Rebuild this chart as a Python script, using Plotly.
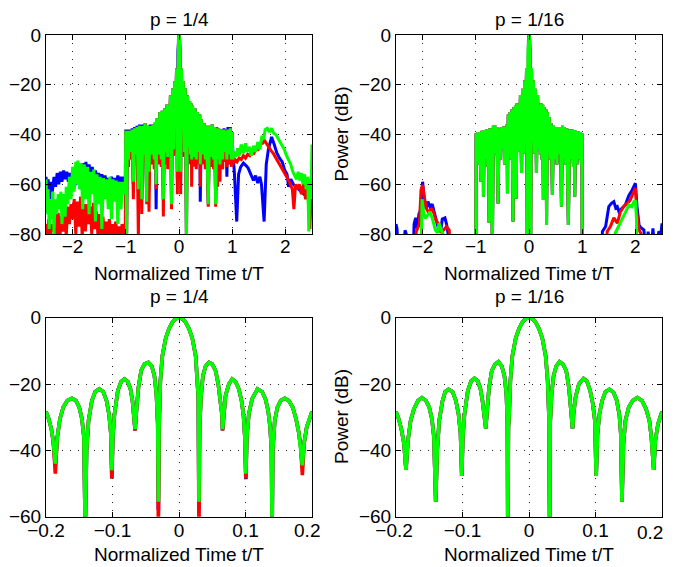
import plotly.graph_objects as go

# ---------------- DATA ----------------
# Top-left panel (p = 1/4), Normalized time t/T vs Power (dB)
tl_green_left_t = [-2.50, -2.48, -2.46, -2.44, -2.42, -2.40, -2.37, -2.35, -2.33, -2.30, -2.27, -2.25, -2.22, -2.20,
                   -2.17, -2.14, -2.12, -2.09, -2.06, -2.03, -2.00, -1.97, -1.94, -1.92, -1.90, -1.87, -1.84, -1.81,
                   -1.78, -1.75, -1.72, -1.69, -1.66, -1.63, -1.60, -1.57, -1.54, -1.51, -1.48, -1.45, -1.42, -1.39,
                   -1.36, -1.33, -1.30, -1.27, -1.24, -1.21, -1.18, -1.15, -1.12, -1.09, -1.06, -1.03, -1.01]
tl_green_left_db = [-58, -72, -62, -78, -66, -74, -63, -80, -66, -72, -64, -70, -63, -76,
                    -64, -73, -61, -68, -57, -66, -53, -63, -51, -60, -50.5, -62, -51.5, -70,
                    -52, -66, -53, -72, -55, -64, -54, -75, -56, -68, -57, -78, -57.5, -66,
                    -58, -70, -57, -74, -58, -67, -58.5, -76, -59, -70, -59, -64, -60]
tl_red_left_t = [-2.50, -2.47, -2.45, -2.42, -2.39, -2.36, -2.33, -2.30, -2.27, -2.24, -2.21, -2.18, -2.15, -2.12,
                 -2.09, -2.06, -2.03, -2.00, -1.97, -1.94, -1.91, -1.88, -1.85, -1.82, -1.79, -1.76, -1.73, -1.70,
                 -1.67, -1.64, -1.61, -1.58, -1.55, -1.52, -1.49, -1.46, -1.43, -1.40, -1.37, -1.34, -1.31, -1.28,
                 -1.25, -1.22, -1.19, -1.16, -1.13, -1.10, -1.07, -1.04, -1.01]
tl_red_left_db = [-76, -80, -74, -82, -76, -79, -72, -80, -71.5, -82, -73, -79, -70, -81,
                  -69, -76, -68, -74, -66, -80, -67, -77, -65, -81, -68, -79, -68, -76,
                  -69, -80, -67.5, -78, -71, -82, -72, -80, -73, -81, -75, -82, -74, -80,
                  -76, -82, -75, -81, -77, -82, -76, -81, -78]
tl_blue_left_t = [-2.50, -2.48, -2.46, -2.43, -2.41, -2.38, -2.35, -2.32, -2.29, -2.26, -2.23, -2.20, -2.17, -2.14,
                  -2.11, -2.08, -2.05, -2.02, -1.99, -1.96, -1.93, -1.90, -1.87, -1.84, -1.81, -1.78, -1.75, -1.72,
                  -1.69, -1.66, -1.63, -1.60, -1.57, -1.54, -1.51, -1.48, -1.45, -1.42, -1.39, -1.36, -1.33, -1.30,
                  -1.27, -1.24, -1.21, -1.18, -1.15, -1.12, -1.09, -1.06, -1.03, -1.01]
tl_blue_left_db = [-57, -64, -58, -66, -59, -63, -57, -61, -55.5, -60, -55, -59, -54.5, -58,
                   -55, -59, -55.5, -60, -55, -61, -53, -60, -52, -62, -51.5, -60, -51, -58,
                   -52, -57, -53, -58.5, -54.5, -59, -55.5, -59, -56, -60, -56.5, -60, -57.5, -61,
                   -57, -60, -57.5, -61, -56.5, -60, -57, -61, -57, -60]

tl_ct = [-1.000, -0.985, -0.970, -0.950, -0.930, -0.905, -0.880, -0.858, -0.835, -0.810, -0.790, -0.764, -0.745,
         -0.725, -0.710, -0.700, -0.680, -0.655, -0.635, -0.607, -0.585, -0.564, -0.540, -0.515, -0.490, -0.465,
         -0.445, -0.430, -0.410, -0.385, -0.360, -0.335, -0.315, -0.294, -0.270, -0.245, -0.225, -0.212, -0.200,
         -0.186, -0.161, -0.141, -0.120, -0.101, -0.082, -0.066, -0.046, -0.031, -0.020, -0.010, 0.000, 0.010,
         0.020, 0.031, 0.045, 0.066, 0.080, 0.100, 0.118, 0.140, 0.159, 0.186, 0.200, 0.215, 0.228, 0.238, 0.255,
         0.280, 0.300, 0.325, 0.345, 0.370, 0.390, 0.400, 0.420, 0.445, 0.470, 0.495, 0.515, 0.550, 0.575, 0.600,
         0.625, 0.650, 0.670, 0.689, 0.710, 0.725, 0.745, 0.770, 0.790, 0.820, 0.845, 0.865, 0.883, 0.900, 0.920,
         0.945, 0.965, 0.985, 1.000]
tl_c_green = [-38.5, -80, -38.5, -50, -38.5, -47, -38, -59, -37.5, -48, -37, -62, -36.5,
              -47, -36.5, -66, -36.5, -48, -35.5, -67, -36.5, -55, -36.5, -48, -36, -50,
              -35, -60, -33.5, -48, -31, -50, -30.5, -66, -29.5, -47, -28, -49, -28.3,
              -44, -24.3, -68, -21.5, -46, -18.5, -33.6, -13.5, -55, -6.5, -1.4, 0, -1.4,
              -6.5, -55, -13.5, -33.6, -18.5, -47, -21.5, -82, -24.3, -45, -26.5, -48, -27.5, -50, -28.5,
              -49, -29.5, -50, -31, -47, -32, -52, -34, -48, -35.5, -50, -36.5, -68, -36.5, -49,
              -36, -50, -37, -68, -37.5, -50, -37.5, -52, -38, -50, -38, -47, -38.5, -50, -38,
              -48, -37.5, -50, -39]
tl_c_red = [-38.5, -82, -38.5, -53, -38.5, -50, -38, -66, -37.5, -50, -37, -82, -36.5,
            -49, -36.5, -72, -36.5, -51, -35.5, -68, -36.5, -71, -36.5, -52, -36, -54,
            -35, -62, -33.5, -52, -31, -53, -30.5, -73, -29.5, -52, -28, -54, -28.3,
            -47, -24.3, -70, -21.5, -48.5, -18.5, -34, -13.5, -64, -6.5, -1.4, 0, -1.4,
            -6.5, -64, -13.5, -34, -18.5, -49, -21.5, -82, -24.3, -47.5, -26.5, -52, -27.5, -61, -28.5,
            -53, -29.5, -54, -31, -52, -32, -61, -34, -52, -35.5, -54, -36.5, -69, -36.5, -53,
            -36, -54, -37, -69, -37, -61, -37.5, -59, -38, -54, -38, -51, -38.5, -53, -38,
            -52, -37.5, -53, -39]
tl_c_blue = [-38, -80, -38, -51, -38, -48, -37.5, -60, -37, -49, -36.5, -63, -36,
             -48, -36, -66, -36, -49, -35.5, -67, -36.5, -56, -36, -49, -36, -51,
             -35, -70, -33.5, -49, -31, -51, -30.5, -66, -29.5, -48, -28, -50, -28.3,
             -44, -24.3, -68, -21.5, -48.5, -18.5, -34, -13.5, -58, -6.5, -1.4, 0, -1.4,
             -6.5, -58, -13.5, -34, -18.5, -48.5, -21.5, -82, -24.3, -45, -26.5, -49, -27.5, -51, -28.5,
             -50, -29.5, -51, -31, -48, -32, -67, -34, -49, -35.5, -51, -36.5, -68, -36.5, -50,
             -36, -51, -37, -68, -37.5, -51, -37.5, -53, -38, -51, -37.5, -48, -38, -57, -37,
             -49, -37, -51, -39]

tl_green_right_t = [1.01, 1.04, 1.07, 1.10, 1.13, 1.17, 1.21, 1.25, 1.28, 1.32, 1.36, 1.40, 1.44, 1.48, 1.52,
                    1.56, 1.59, 1.62, 1.66, 1.70, 1.74, 1.78, 1.82, 1.86, 1.90, 1.94, 1.98, 2.02, 2.06, 2.10,
                    2.14, 2.18, 2.21, 2.24, 2.27, 2.30, 2.33, 2.36, 2.39, 2.42, 2.44, 2.46, 2.48, 2.50]
tl_green_right_db = [-50, -47, -49, -45.5, -48.5, -44, -47.5, -43.5, -47, -45, -48.5, -44.5, -47, -43, -46,
                     -40.5, -42, -38, -37.5, -39, -37.5, -39.5, -40, -41.5, -43, -44.5, -46, -48.5, -50, -52,
                     -55, -56.5, -58, -55, -58.5, -55.5, -60, -56, -62, -57, -79, -58, -66, -44]
tl_red_right_t = [1.01, 1.05, 1.09, 1.13, 1.17, 1.21, 1.25, 1.29, 1.33, 1.37, 1.41, 1.45, 1.49, 1.53, 1.57,
                  1.61, 1.65, 1.69, 1.73, 1.77, 1.81, 1.85, 1.89, 1.93, 1.97, 2.01, 2.05, 2.09, 2.13, 2.16,
                  2.19, 2.22, 2.26, 2.30, 2.34, 2.38, 2.42, 2.46, 2.48, 2.50]
tl_red_right_db = [-52, -50, -51, -49.5, -50, -48.5, -49.5, -48, -48.5, -47, -47.5, -45.5, -46, -44, -43.5,
                   -42.5, -44, -45, -46.5, -47.5, -49, -50, -51.5, -53, -55, -56, -58, -60, -62, -70,
                   -60, -62, -60, -64, -60, -66, -62, -78, -62, -56]
tl_blue_right_t = [1.01, 1.04, 1.085, 1.12, 1.16, 1.21, 1.26, 1.30, 1.35, 1.40, 1.44, 1.48, 1.52, 1.55, 1.60,
                   1.64, 1.68, 1.74, 1.79, 1.84, 1.89, 1.94, 1.99, 2.03, 2.06, 2.10, 2.15, 2.20, 2.25, 2.30,
                   2.35, 2.40, 2.45, 2.50]
tl_blue_right_db = [-46, -55, -75, -56, -53, -51.5, -52.5, -53.5, -56, -58.5, -56.5, -59.5, -57, -60, -75,
                    -52, -46, -41, -44, -47.5, -49.5, -51, -54.5, -56, -61, -58, -60, -61, -62, -63,
                    -64, -62, -66, -60]

# Top-right panel (p = 1/16)
tr_ct = [-1.000, -0.995, -0.975, -0.955, -0.935, -0.920, -0.906, -0.885, -0.870, -0.862, -0.856, -0.840, -0.815,
         -0.795, -0.775, -0.765, -0.750, -0.735, -0.715, -0.700, -0.690, -0.670, -0.657, -0.645, -0.625, -0.605,
         -0.582, -0.560, -0.540, -0.520, -0.500, -0.480, -0.460, -0.437, -0.420, -0.412, -0.405, -0.390, -0.370,
         -0.355, -0.335, -0.320, -0.300, -0.285, -0.265, -0.255, -0.240, -0.225, -0.205, -0.200, -0.185, -0.161,
         -0.140, -0.121, -0.101, -0.082, -0.065, -0.046, -0.032, -0.020, -0.010, 0.000, 0.010, 0.020, 0.031,
         0.046, 0.0655, 0.082, 0.101, 0.121, 0.140, 0.161, 0.187, 0.200, 0.215, 0.228, 0.245, 0.258, 0.270,
         0.285, 0.305, 0.318, 0.330, 0.345, 0.365, 0.380, 0.400, 0.415, 0.440, 0.460, 0.480, 0.500, 0.525,
         0.545, 0.570, 0.590, 0.610, 0.630, 0.650, 0.665, 0.690, 0.710, 0.740, 0.765, 0.790, 0.810, 0.835,
         0.850, 0.860, 0.875, 0.900, 0.920, 0.945, 0.965, 0.985, 0.995, 1.000]
tr_c_db = [-90, -39.5, -50, -39, -52, -39, -59, -38.5, -50, -38.5, -65, -38.2, -50,
           -38, -53, -37.8, -75.5, -37.5, -50, -37.5, -90, -36.5, -45, -36.2, -48, -37,
           -67.7, -37.5, -50, -37, -46, -36.8, -52, -36.8, -49, -36, -63.6, -32, -48,
           -31, -50, -30, -75, -29, -48, -28.5, -65.7, -27.5, -47, -28.3, -46, -24.1,
           -55.5, -21.6, -47.7, -18.3, -33.4, -13.3, -90, -6.5, -1.4, 0, -1.4, -6.5, -90,
           -13.3, -33.4, -18.3, -47.7, -21.6, -55.5, -24.1, -46, -28.3, -48, -27.5, -50, -28, -66.3,
           -29, -50, -30, -76.4, -31, -48, -33, -50, -35.5, -64.3, -36.5, -50, -37, -52,
           -37, -48, -37, -69, -36.5, -50, -37, -52, -37.5, -76.4, -38, -50, -38, -53,
           -38.2, -65, -38.5, -52, -38.7, -50, -39, -52, -39.5, -90]
tr_blue_left_t = [-2.50, -2.48, -2.46, -2.36, -2.33, -2.30, -2.27, -2.18, -2.16, -2.13, -2.10, -2.07, -2.03,
                  -2.00, -1.97, -1.93, -1.90, -1.86, -1.82, -1.78, -1.74, -1.70, -1.66, -1.63, -1.58, -1.55,
                  -1.52, -1.50]
tr_blue_left_db = [-76, -78, -90, -90, -78.5, -80.5, -90, -90, -76, -73.5, -78, -72, -70,
                   -59, -66, -70, -67, -69, -68, -71, -75, -78, -79, -74, -73.5, -76,
                   -80, -90]
tr_red_left_t = [-2.16, -2.12, -2.06, -2.03, -2.00, -1.97, -1.94, -1.90, -1.87, -1.83, -1.79, -1.75, -1.69,
                 -1.65, -1.60, -1.55, -1.50, -1.47]
tr_red_left_db = [-90, -79, -76, -62.3, -60.3, -66, -69, -71, -71, -69.7, -71.5, -74.4, -76.4,
                  -79.5, -78, -77, -78.4, -90]
tr_green_left_t = [-2.03, -2.01, -1.98, -1.95, -1.91, -1.86, -1.81, -1.76, -1.72, -1.69, -1.65, -1.62, -1.58]
tr_green_left_db = [-90, -66, -71.5, -73.7, -72.5, -71, -74.4, -78.4, -79.5, -75.7, -78.4, -79.7, -90]
tr_blue_right_t = [1.36, 1.38, 1.44, 1.50, 1.55, 1.595, 1.63, 1.66, 1.69, 1.72, 1.77, 1.81, 1.85, 1.88,
                   1.94, 2.00, 2.03, 2.07, 2.10, 2.16, 2.20, 2.24, 2.28, 2.33, 2.37, 2.44, 2.48, 2.50]
tr_blue_right_db = [-90, -79, -77, -69, -67.7, -67, -69.5, -69, -71, -70.4, -69, -68.3, -66, -64.4,
                    -62.3, -59.6, -69, -76.4, -77.4, -78.4, -90, -79, -90, -77.7, -90, -79, -80, -75.7]
tr_red_right_t = [1.44, 1.47, 1.53, 1.595, 1.66, 1.72, 1.78, 1.85, 1.90, 1.95, 2.00, 2.03, 2.07, 2.10, 2.13]
tr_red_right_db = [-90, -79, -77, -73.5, -75.7, -71, -69, -67.7, -66.5, -64, -61.5, -72, -78.4, -79.7, -90]
tr_green_right_t = [1.57, 1.62, 1.66, 1.70, 1.74, 1.78, 1.82, 1.88, 1.93, 1.97, 2.00, 2.02, 2.03]
tr_green_right_db = [-90, -79.7, -78, -75.7, -74, -72.5, -71, -68.3, -69, -67, -66.5, -73.7, -90]

# Bottom-left panel (p = 1/4), zoom of the main lobe
bl_t = [-0.200, -0.196, -0.192, -0.189, -0.186, -0.183, -0.179, -0.174, -0.168, -0.161, -0.155, -0.150, -0.146,
        -0.143, -0.141, -0.139, -0.136, -0.131, -0.126, -0.120, -0.114, -0.109, -0.105, -0.1025, -0.101, -0.0995,
        -0.097, -0.092, -0.087, -0.082, -0.077, -0.073, -0.070, -0.068, -0.066, -0.064, -0.061, -0.057, -0.052,
        -0.046, -0.041, -0.037, -0.034, -0.032, -0.031, -0.030, -0.028, -0.025, -0.020, -0.015, -0.010, -0.005,
        0.000, 0.005, 0.010, 0.015, 0.020, 0.025, 0.028, 0.029, 0.030, 0.031, 0.033, 0.036, 0.040, 0.045, 0.050,
        0.055, 0.059, 0.062, 0.0645, 0.0655, 0.067, 0.070, 0.075, 0.080, 0.085, 0.090, 0.094, 0.097, 0.099,
        0.1005, 0.102, 0.105, 0.110, 0.118, 0.125, 0.130, 0.134, 0.137, 0.139, 0.140, 0.141, 0.144, 0.148,
        0.153, 0.159, 0.165, 0.171, 0.176, 0.180, 0.183, 0.1855, 0.188, 0.192, 0.196, 0.200]
bl_green = [-28.3, -30.5, -33.5, -37.5, -44, -36, -30.5, -27, -25, -24.3, -25, -27, -30.5,
            -36, -65, -40, -31, -25, -22.3, -21.5, -22.3, -25, -29.5, -35, -46, -36,
            -29, -22, -19.3, -18.5, -19.3, -21.5, -25, -28.5, -33.6, -28, -21, -16, -14,
            -13.5, -14.6, -17.5, -23, -32, -55.5, -33, -19, -11.5, -6.2, -3.3, -1.4, -0.35,
            0, -0.35, -1.4, -3.3, -6.2, -11.5, -19, -24, -55.5, -33, -24, -17.5, -14.6, -13.5, -14,
            -16, -20, -24.5, -29, -33.6, -29, -23.5, -20, -18.5, -19.3, -21.5, -25, -29.5, -36,
            -47, -36, -29, -24.5, -21.5, -22.3, -24.5, -28, -33, -40, -65, -40, -31, -27,
            -25, -24.3, -25, -27, -30.5, -34.5, -39, -44.5, -38, -33, -30.5, -28.3]
bl_red = [-28.3, -30.5, -33.5, -37.5, -47, -36, -30.5, -27, -25, -24.3, -25, -27, -30.5,
          -36, -65, -40, -31, -25, -22.3, -21.5, -22.3, -25, -29.5, -35, -48.5, -36,
          -29, -22, -19.3, -18.5, -19.3, -21.5, -25, -28.5, -34, -28, -21, -16, -14,
          -13.5, -14.6, -17.5, -23, -32, -65, -33, -19, -11.5, -6.2, -3.3, -1.4, -0.35,
          0, -0.35, -1.4, -3.3, -6.2, -11.5, -19, -24, -65, -33, -24, -17.5, -14.6, -13.5, -14,
          -16, -20, -24.5, -29, -34, -29, -23.5, -20, -18.5, -19.3, -21.5, -25, -29.5, -36,
          -48.5, -36, -29, -24.5, -21.5, -22.3, -24.5, -28, -33, -40, -65, -40, -31, -27,
          -25, -24.3, -25, -27, -30.5, -34.5, -39, -47.5, -38, -33, -30.5, -28.3]
bl_blue = [-28.3, -30.5, -33.5, -37.5, -44.5, -36, -30.5, -27, -25, -24.3, -25, -27, -30.5,
           -36, -65, -40, -31, -25, -22.3, -21.5, -22.3, -25, -29.5, -35, -48.5, -36,
           -29, -22, -19.3, -18.5, -19.3, -21.5, -25, -28.5, -34, -28, -21, -16, -14,
           -13.5, -14.6, -17.5, -23, -32, -58, -33, -19, -11.5, -6.2, -3.3, -1.4, -0.35,
           0, -0.35, -1.4, -3.3, -6.2, -11.5, -19, -24, -58, -33, -24, -17.5, -14.6, -13.5, -14,
           -16, -20, -24.5, -29, -34, -29, -23.5, -20, -18.5, -19.3, -21.5, -25, -29.5, -36,
           -48.7, -36, -29, -24.5, -21.5, -22.3, -24.5, -28, -33, -40, -65, -40, -31, -27,
           -25, -24.3, -25, -27, -30.5, -34.5, -39, -45, -38, -33, -30.5, -28.3]

# Bottom-right panel (p = 1/16): the three curves coincide
br_t = [-0.200, -0.196, -0.192, -0.188, -0.185, -0.182, -0.178, -0.173, -0.167, -0.161, -0.155, -0.150, -0.146,
        -0.143, -0.1403, -0.138, -0.135, -0.130, -0.126, -0.121, -0.115, -0.110, -0.106, -0.103, -0.1011, -0.0995,
        -0.097, -0.092, -0.087, -0.082, -0.077, -0.073, -0.070, -0.067, -0.065, -0.063, -0.060, -0.056, -0.051,
        -0.046, -0.041, -0.037, -0.034, -0.0325, -0.0319, -0.031, -0.030, -0.028, -0.025, -0.020, -0.015, -0.010,
        -0.005, 0.000, 0.005, 0.010, 0.015, 0.020, 0.025, 0.028, 0.030, 0.031, 0.0318, 0.034, 0.037, 0.041,
        0.046, 0.051, 0.056, 0.060, 0.063, 0.0645, 0.0655, 0.067, 0.070, 0.075, 0.082, 0.087, 0.092, 0.096,
        0.099, 0.101, 0.103, 0.106, 0.110, 0.115, 0.121, 0.127, 0.132, 0.136, 0.138, 0.1398, 0.142, 0.145,
        0.150, 0.156, 0.163, 0.170, 0.176, 0.181, 0.184, 0.1875, 0.190, 0.194, 0.197, 0.200]
br_db = [-28.3, -30.5, -33.5, -38, -45.9, -37, -31, -27.5, -25, -24.1, -25, -27, -30.5,
         -36, -55.5, -40, -31, -25, -22.3, -21.6, -22.3, -25, -29, -35, -47.7, -36,
         -29, -22, -19.1, -18.3, -19.1, -21.5, -25, -29, -33.4, -28, -21, -16, -14,
         -13.3, -14.6, -17.5, -23, -32, -65, -33, -30, -19, -11.5, -6.2, -3.3, -1.4,
         -0.35, 0, -0.35, -1.4, -3.3, -6.2, -11.5, -19, -30, -65, -32, -23, -17.5, -14.6,
         -13.3, -14, -16, -21, -27, -30, -33.4, -29, -24, -20, -18.3, -19.1, -22, -26,
         -31, -47.7, -35, -29, -25, -22.3, -21.6, -22.5, -25, -29.5, -35, -55.5, -38, -31,
         -27, -25, -24.1, -25, -27.5, -31, -36, -45.9, -37, -32, -30, -28.3]

# Tick labels
top_xtick_vals = [-2, -1, 0, 1, 2]
top_xtick_text = ["\u22122", "\u22121", "0", "1", "2"]
top_ytick_vals = [0, -20, -40, -60, -80]
top_ytick_text = ["0", "\u221220", "\u221240", "\u221260", "\u221280"]
bot_xtick_vals = [-0.2, -0.1, 0, 0.1, 0.2]
bl_xtick_text = ["\u22120.2", "\u22120.1", "0", "0.1", "0.2\u2002"]
# bottom-right: the last label sits inside the window edge; it is placed separately below
br_xtick_text = ["\u22120.2\u2009", "\u22120.1", "0", "0.1", ""]
br_edge_label = "0.2"
bot_ytick_vals = [0, -20, -40, -60]
bot_ytick_text = ["0", "\u221220", "\u221240", "\u221260"]

panel_titles = ["p = 1/4", "p = 1/16", "p = 1/4", "p = 1/16"]
x_label = "Normalized Time t/T"
y_label = "Power (dB)"

BLUE, RED, GREEN = "#0000ff", "#ff0000", "#00ff00"
FONT = "Liberation Sans, Arial, Helvetica, sans-serif"
FS = 19

# The page body has an 8px margin, so the figure is 8px smaller than the window
# and all layout positions below are in figure pixels (window pixels minus 8).
FW, FH = 667, 559

# ---------------- FIGURE ----------------
fig = go.Figure()


def add(t, db, color, xa, ya, w):
    fig.add_trace(go.Scatter(x=t, y=db, mode="lines", line=dict(color=color, width=w),
                             xaxis=xa, yaxis=ya, hoverinfo="skip", showlegend=False))


W_TOP, W_BOT = 3, 3.6
# top-left
add(tl_blue_left_t + tl_ct + tl_blue_right_t, tl_blue_left_db + tl_c_blue + tl_blue_right_db, BLUE, "x", "y", W_TOP)
add(tl_red_left_t + tl_ct + tl_red_right_t, tl_red_left_db + tl_c_red + tl_red_right_db, RED, "x", "y", W_TOP)
add(tl_green_left_t + tl_ct + tl_green_right_t, tl_green_left_db + tl_c_green + tl_green_right_db, GREEN, "x", "y", W_TOP)
# top-right
add(tr_blue_left_t + tr_ct + tr_blue_right_t, tr_blue_left_db + tr_c_db + tr_blue_right_db, BLUE, "x2", "y2", W_TOP)
add(tr_red_left_t + tr_ct + tr_red_right_t, tr_red_left_db + tr_c_db + tr_red_right_db, RED, "x2", "y2", W_TOP)
add(tr_green_left_t + tr_ct + tr_green_right_t, tr_green_left_db + tr_c_db + tr_green_right_db, GREEN, "x2", "y2", W_TOP)
# bottom-left
add(bl_t, bl_blue, BLUE, "x3", "y3", W_BOT)
add(bl_t, bl_red, RED, "x3", "y3", W_BOT)
add(bl_t, bl_green, GREEN, "x3", "y3", W_BOT)
# bottom-right
add(br_t, br_db, BLUE, "x4", "y4", W_BOT)
add(br_t, br_db, RED, "x4", "y4", W_BOT)
add(br_t, br_db, GREEN, "x4", "y4", W_BOT)

common = dict(showline=True, linecolor="black", linewidth=1, mirror="ticks", ticks="inside", ticklen=5,
              tickcolor="black", showgrid=True, gridcolor="#222222", gridwidth=1, griddash="1px,7px",
              zeroline=False, automargin=False, ticklabeloverflow="allow",
              tickfont=dict(family=FONT, size=FS, color="black"))

XL = [38 / FW, 304 / FW]
XR = [388 / FW, 654 / FW]
YT = [1 - 226 / FH, 1 - 27 / FH]
YB = [1 - 508.7 / FH, 1 - 309.7 / FH]

fig.update_layout(
    width=FW, height=FH, margin=dict(l=0, r=0, t=0, b=0, autoexpand=False),
    paper_bgcolor="white", plot_bgcolor="white", showlegend=False,
    xaxis=dict(domain=XL, anchor="y", range=[-2.5, 2.5], tickvals=top_xtick_vals, ticktext=top_xtick_text,
               ticklabelstandoff=-5, **common),
    yaxis=dict(domain=YT, anchor="x", range=[-80, 0], tickvals=top_ytick_vals, ticktext=top_ytick_text, **common),
    xaxis2=dict(domain=XR, anchor="y2", range=[-2.5, 2.5], tickvals=top_xtick_vals, ticktext=top_xtick_text,
                ticklabelstandoff=-5, **common),
    yaxis2=dict(domain=YT, anchor="x2", range=[-80, 0], tickvals=top_ytick_vals, ticktext=top_ytick_text, **common),
    xaxis3=dict(domain=XL, anchor="y3", range=[-0.2, 0.2], tickvals=bot_xtick_vals, ticktext=bl_xtick_text,
                ticklabelstandoff=-4, **common),
    yaxis3=dict(domain=YB, anchor="x3", range=[-60, 0], tickvals=bot_ytick_vals, ticktext=bot_ytick_text, **common),
    xaxis4=dict(domain=XR, anchor="y4", range=[-0.2, 0.2], tickvals=bot_xtick_vals, ticktext=br_xtick_text,
                ticklabelstandoff=-4, **common),
    yaxis4=dict(domain=YB, anchor="x4", range=[-60, 0], tickvals=bot_ytick_vals, ticktext=bot_ytick_text, **common),
)

ann_font = dict(family=FONT, size=FS, color="black")
cx_l, cx_r = 171 / FW, 521 / FW
annotations = []
for i, (cx, cy) in enumerate([(cx_l, 1 - 11.5 / FH), (cx_r, 1 - 11.5 / FH), (cx_l, 1 - 289 / FH), (cx_r, 1 - 289 / FH)]):
    annotations.append(dict(text=panel_titles[i], x=cx, y=cy, xref="paper", yref="paper", borderpad=0,
                            xanchor="center", yanchor="middle", showarrow=False, font=ann_font))
for cx, cy in [(cx_l, 1 - 265.5 / FH), (cx_r, 1 - 265.5 / FH), (cx_l, 1 - 546 / FH), (cx_r, 1 - 546 / FH)]:
    annotations.append(dict(text=x_label, x=cx, y=cy, xref="paper", yref="paper", borderpad=0,
                            xanchor="center", yanchor="middle", showarrow=False, font=ann_font))
for cy in [1 - 126.5 / FH, 1 - 409 / FH]:
    annotations.append(dict(text=y_label, x=333 / FW, y=cy, xref="paper", yref="paper", textangle=-90,
                            borderpad=0, xanchor="center", yanchor="middle", showarrow=False, font=ann_font))
# edge tick label of the bottom-right x axis, pulled inside the window like in the reference
annotations.append(dict(text=br_edge_label, x=656 / FW, y=1 - 524 / FH, xref="paper", yref="paper", borderpad=0,
                        xanchor="right", yanchor="middle", showarrow=False, font=ann_font))
fig.update_layout(annotations=annotations)

fig.write_html("out.html")
